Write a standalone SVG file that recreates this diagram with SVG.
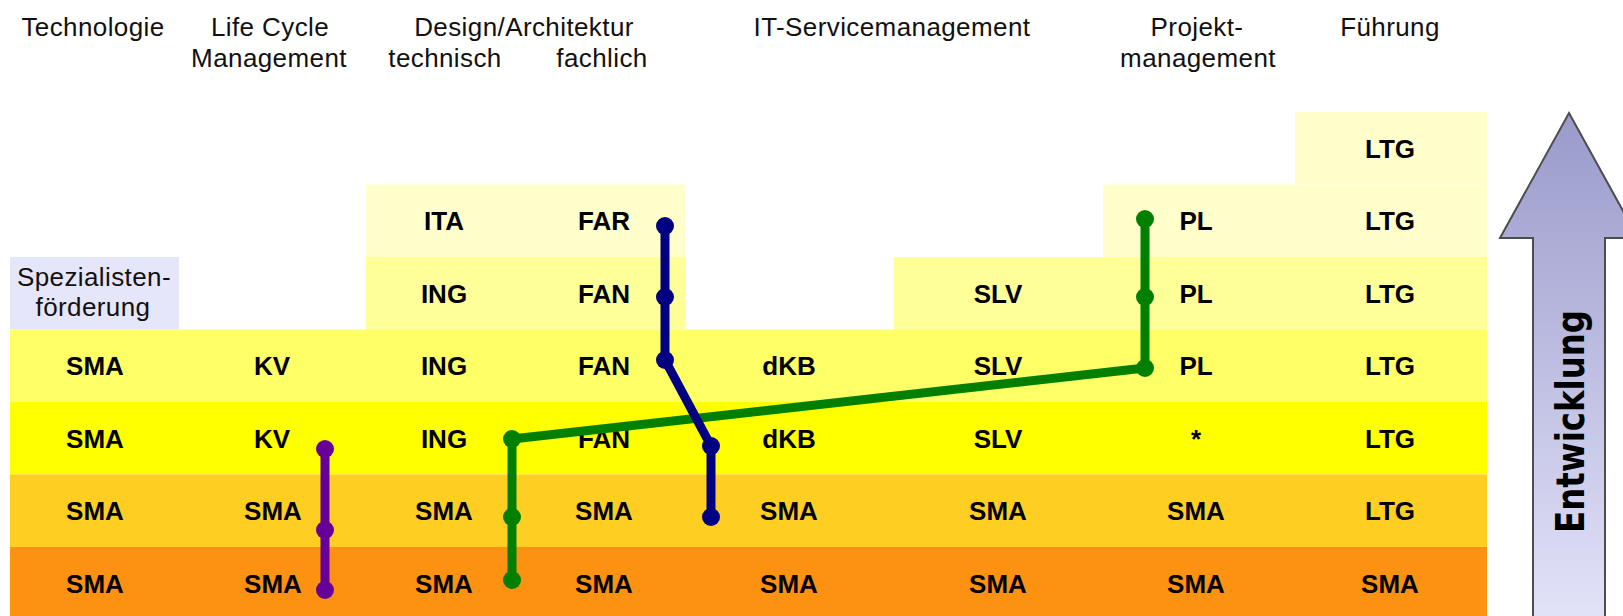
<svg xmlns="http://www.w3.org/2000/svg" width="1623" height="616" viewBox="0 0 1623 616">
<defs>
<linearGradient id="arrowGrad" x1="0" y1="0" x2="0" y2="1">
<stop offset="0" stop-color="#9a9acb"/>
<stop offset="1" stop-color="#e4e4fa"/>
</linearGradient>
<style>
.hd{font-family:"Liberation Sans",Arial,sans-serif;font-size:26px;fill:#111;text-anchor:middle;letter-spacing:0.4px}
.lb{font-family:"Liberation Sans",Arial,sans-serif;font-size:26px;font-weight:bold;fill:#000;text-anchor:middle}
.c0{fill:#ffffcc}.c1{fill:#ffff99}.c2{fill:#ffff66}.c3{fill:#ffff00}.c4{fill:#fecf22}.c5{fill:#fd9112}
.spec{fill:#e6e6fa}
.ln{fill:none;stroke-width:9;stroke-linejoin:round;stroke-linecap:round}
.pu{stroke:#660099}.pud{fill:#660099}
.gr{stroke:#007f00}.grd{fill:#007f00}
.bl{stroke:#000080}.bld{fill:#000080}
</style>
</defs>
<rect width="1623" height="616" fill="#ffffff"/>

<g id="headers">
<text class="hd" x="93" y="36">Technologie</text>
<text class="hd" x="270" y="36">Life Cycle</text>
<text class="hd" x="269" y="67">Management</text>
<text class="hd" x="524" y="36">Design/Architektur</text>
<text class="hd" x="445" y="67">technisch</text>
<text class="hd" x="602" y="67">fachlich</text>
<text class="hd" x="892" y="36">IT-Servicemanagement</text>
<text class="hd" x="1197" y="36">Projekt-</text>
<text class="hd" x="1198" y="67">management</text>
<text class="hd" x="1390" y="36">Führung</text>
</g>

<g id="bands">
<rect class="c0" x="1295" y="112" width="192" height="72.5"/>
<rect class="c0" x="366" y="184.5" width="319" height="72.5"/>
<rect class="c0" x="1103" y="184.5" width="384" height="72.5"/>
<rect class="spec" x="10" y="257" width="169" height="72.5"/>
<rect class="c1" x="366" y="257" width="319" height="72.5"/>
<rect class="c1" x="894" y="257" width="593" height="72.5"/>
<rect class="c2" x="10" y="329.5" width="1477" height="72.5"/>
<rect class="c3" x="10" y="402" width="1477" height="72.5"/>
<rect class="c4" x="10" y="474.5" width="1477" height="72.5"/>
<rect class="c5" x="10" y="547" width="1477" height="72"/>
</g>

<g id="node-spezialisten">
<text class="hd" x="94" y="286">Spezialisten-</text>
<text class="hd" x="93" y="316">förderung</text>
</g>

<g id="col-technologie">
<text class="lb" x="95" y="375">SMA</text>
<text class="lb" x="95" y="447.5">SMA</text>
<text class="lb" x="95" y="520">SMA</text>
<text class="lb" x="95" y="592.5">SMA</text>
</g>
<g id="col-lcm">
<text class="lb" x="272" y="375">KV</text>
<text class="lb" x="272" y="447.5">KV</text>
<text class="lb" x="273" y="520">SMA</text>
<text class="lb" x="273" y="592.5">SMA</text>
</g>
<g id="col-technisch">
<text class="lb" x="444" y="230">ITA</text>
<text class="lb" x="444" y="302.5">ING</text>
<text class="lb" x="444" y="375">ING</text>
<text class="lb" x="444" y="447.5">ING</text>
<text class="lb" x="444" y="520">SMA</text>
<text class="lb" x="444" y="592.5">SMA</text>
</g>
<g id="col-fachlich">
<text class="lb" x="604" y="230">FAR</text>
<text class="lb" x="604" y="302.5">FAN</text>
<text class="lb" x="604" y="375">FAN</text>
<text class="lb" x="604" y="447.5">FAN</text>
<text class="lb" x="604" y="520">SMA</text>
<text class="lb" x="604" y="592.5">SMA</text>
</g>
<g id="col-dkb">
<text class="lb" x="789" y="375">dKB</text>
<text class="lb" x="789" y="447.5">dKB</text>
<text class="lb" x="789" y="520">SMA</text>
<text class="lb" x="789" y="592.5">SMA</text>
</g>
<g id="col-slv">
<text class="lb" x="998" y="302.5">SLV</text>
<text class="lb" x="998" y="375">SLV</text>
<text class="lb" x="998" y="447.5">SLV</text>
<text class="lb" x="998" y="520">SMA</text>
<text class="lb" x="998" y="592.5">SMA</text>
</g>
<g id="col-pl">
<text class="lb" x="1196" y="230">PL</text>
<text class="lb" x="1196" y="302.5">PL</text>
<text class="lb" x="1196" y="375">PL</text>
<text class="lb" x="1196" y="447.5">*</text>
<text class="lb" x="1196" y="520">SMA</text>
<text class="lb" x="1196" y="592.5">SMA</text>
</g>
<g id="col-ltg">
<text class="lb" x="1390" y="157.5">LTG</text>
<text class="lb" x="1390" y="230">LTG</text>
<text class="lb" x="1390" y="302.5">LTG</text>
<text class="lb" x="1390" y="375">LTG</text>
<text class="lb" x="1390" y="447.5">LTG</text>
<text class="lb" x="1390" y="520">LTG</text>
<text class="lb" x="1390" y="592.5">SMA</text>
</g>

<g id="connectors">
<polyline class="ln pu" points="325,449 325,530 325,590"/>
<circle class="pud" cx="325" cy="449" r="9"/>
<circle class="pud" cx="325" cy="530" r="9"/>
<circle class="pud" cx="325" cy="590" r="9"/>

<polyline class="ln gr" points="512,580 512,517 512,439 1145,368 1145,297 1145,219"/>
<circle class="grd" cx="512" cy="580" r="9"/>
<circle class="grd" cx="512" cy="517" r="9"/>
<circle class="grd" cx="512" cy="439" r="9"/>
<circle class="grd" cx="1145" cy="368" r="9"/>
<circle class="grd" cx="1145" cy="297" r="9"/>
<circle class="grd" cx="1145" cy="219" r="9"/>

<polyline class="ln bl" points="665,226 665,297 665,360 711,446 711,517"/>
<circle class="bld" cx="665" cy="226" r="9"/>
<circle class="bld" cx="665" cy="297" r="9"/>
<circle class="bld" cx="665" cy="360" r="9"/>
<circle class="bld" cx="711" cy="446" r="9"/>
<circle class="bld" cx="711" cy="517" r="9"/>
</g>

<g id="arrow-entwicklung">
<path d="M1569,113 L1638,238 L1605,238 L1605,630 L1533,630 L1533,238 L1500,238 Z" fill="url(#arrowGrad)" stroke="#4d4d4d" stroke-width="2" stroke-linejoin="miter"/>
<text transform="translate(1584,421.5) rotate(-90)" x="0" y="0" text-anchor="middle" font-family="'DejaVu Sans',sans-serif" font-weight="bold" font-size="39" textLength="223" lengthAdjust="spacingAndGlyphs" fill="#000">Entwicklung</text>
</g>
</svg>
